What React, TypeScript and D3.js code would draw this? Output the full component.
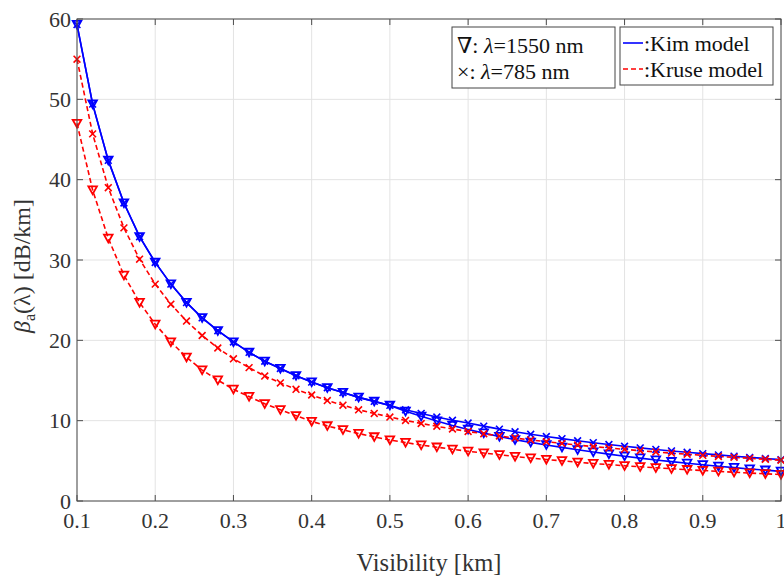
import React from "react";
import * as d3 from "d3";

const VIS = [0.10, 0.12, 0.14, 0.16, 0.18, 0.20, 0.22, 0.24, 0.26, 0.28, 0.30, 0.32, 0.34, 0.36, 0.38, 0.40, 0.42, 0.44, 0.46, 0.48, 0.50, 0.52, 0.54, 0.56, 0.58, 0.60, 0.62, 0.64, 0.66, 0.68, 0.70, 0.72, 0.74, 0.76, 0.78, 0.80, 0.82, 0.84, 0.86, 0.88, 0.90, 0.92, 0.94, 0.96, 0.98, 1.00];

const KIM_1550 = [59.3, 49.4, 42.4, 37.1, 32.9, 29.7, 27.0, 24.7, 22.8, 21.2, 19.8, 18.5, 17.4, 16.5, 15.6, 14.8, 14.1, 13.5, 12.9, 12.4, 11.9, 11.17, 10.54, 9.95, 9.41, 8.91, 8.45, 8.03, 7.63, 7.3, 6.98, 6.68, 6.38, 6.1, 5.83, 5.58, 5.34, 5.11, 4.9, 4.7, 4.52, 4.33, 4.16, 3.99, 3.84, 3.69];
const KIM_785 = [59.3, 49.4, 42.4, 37.1, 32.9, 29.7, 27.0, 24.7, 22.8, 21.2, 19.8, 18.5, 17.4, 16.5, 15.6, 14.8, 14.1, 13.5, 12.9, 12.4, 11.9, 11.35, 10.9, 10.45, 10.05, 9.7, 9.32, 8.95, 8.62, 8.3, 8.02, 7.76, 7.5, 7.26, 7.03, 6.82, 6.61, 6.42, 6.23, 6.06, 5.9, 5.74, 5.58, 5.43, 5.29, 5.15];
const KRUSE_1550 = [47.0, 38.7, 32.7, 28.1, 24.7, 22.0, 19.8, 17.9, 16.3, 15.05, 13.9, 13.0, 12.1, 11.35, 10.62, 9.9, 9.35, 8.86, 8.4, 7.98, 7.6, 7.27, 6.97, 6.7, 6.44, 6.19, 5.97, 5.75, 5.54, 5.35, 5.17, 5.0, 4.83, 4.67, 4.53, 4.39, 4.26, 4.14, 4.01, 3.9, 3.8, 3.69, 3.58, 3.48, 3.39, 3.3];
const KRUSE_785 = [55.0, 45.7, 39.0, 34.0, 30.1, 27.0, 24.5, 22.4, 20.6, 19.05, 17.7, 16.6, 15.55, 14.7, 13.9, 13.2, 12.5, 11.93, 11.35, 10.9, 10.45, 10.03, 9.65, 9.3, 8.96, 8.65, 8.37, 8.1, 7.84, 7.6, 7.38, 7.17, 6.96, 6.77, 6.6, 6.43, 6.26, 6.11, 5.96, 5.82, 5.68, 5.55, 5.43, 5.31, 5.19, 5.08];

const X_TICKS = [0.1, 0.2, 0.3, 0.4, 0.5, 0.6, 0.7, 0.8, 0.9, 1.0];
const X_LABELS = ["0.1", "0.2", "0.3", "0.4", "0.5", "0.6", "0.7", "0.8", "0.9", "1"];
const Y_TICKS = [0, 10, 20, 30, 40, 50, 60];

const W = 784;
const H = 577;
const L = 77, R = 781, T = 19, B = 501;
const FONT = "Liberation Serif, DejaVu Serif, Times New Roman, serif";
const BLUE = "#0000ff";
const RED = "#ff0000";
const AX = "#4d4d4d";
const TXT = "#333333";

const x = d3.scaleLinear().domain([0.1, 1]).range([L, R]);
const y = d3.scaleLinear().domain([0, 60]).range([B, T]);

type Series = { vals: number[]; color: string; dash?: string; marker: "tri" | "x" };

const SERIES: Series[] = [
  { vals: KIM_1550, color: BLUE, marker: "tri" },
  { vals: KIM_785, color: BLUE, marker: "x" },
  { vals: KRUSE_1550, color: RED, dash: "5,3", marker: "tri" },
  { vals: KRUSE_785, color: RED, dash: "5,3", marker: "x" },
];

const line = d3
  .line<number>()
  .x((_, i) => x(VIS[i]))
  .y((d) => y(d));

function Marker({ kind, cx, cy, color }: { kind: "tri" | "x"; cx: number; cy: number; color: string }) {
  if (kind === "tri") {
    const s = 4.3;
    const p = `M${cx - s},${cy - s * 0.85}L${cx + s},${cy - s * 0.85}L${cx},${cy + s * 0.95}Z`;
    return <path d={p} fill="none" stroke={color} strokeWidth={1.8} strokeLinejoin="miter" />;
  }
  const s = 3.4;
  return (
    <path
      d={`M${cx - s},${cy - s}L${cx + s},${cy + s}M${cx - s},${cy + s}L${cx + s},${cy - s}`}
      stroke={color}
      strokeWidth={1.6}
      fill="none"
    />
  );
}

const textStyle: React.CSSProperties = { fontFamily: FONT };

export default function App() {
  return (
    <svg
      width={W}
      height={H}
      viewBox={`0 0 ${W} ${H}`}
      style={{ position: "absolute", left: 0, top: 0, background: "#fff", fontFamily: FONT }}
    >
      <rect x={0} y={0} width={W} height={H} fill="#fff" />
      {/* grid */}
      {X_TICKS.map((t) => (
        <line key={"gx" + t} x1={x(t)} x2={x(t)} y1={T} y2={B} stroke="#e3e3e3" strokeWidth={1} />
      ))}
      {Y_TICKS.map((t) => (
        <line key={"gy" + t} x1={L} x2={R} y1={y(t)} y2={y(t)} stroke="#e3e3e3" strokeWidth={1} />
      ))}

      {/* series lines */}
      {SERIES.map((s, k) => (
        <path
          key={"l" + k}
          d={line(s.vals) || ""}
          fill="none"
          stroke={s.color}
          strokeWidth={1.6}
          strokeDasharray={s.dash}
        />
      ))}
      {SERIES.map((s, k) => (
        <g key={"m" + k}>
          {s.vals.map((v, i) => (
            <Marker key={i} kind={s.marker} cx={x(VIS[i])} cy={y(v)} color={s.color} />
          ))}
        </g>
      ))}

      {/* axes box */}
      <rect x={L} y={T} width={R - L} height={B - T} fill="none" stroke={AX} strokeWidth={1} />
      {X_TICKS.map((t) => (
        <g key={"tx" + t}>
          <line x1={x(t)} x2={x(t)} y1={B} y2={B - 6} stroke={AX} />
          <line x1={x(t)} x2={x(t)} y1={T} y2={T + 6} stroke={AX} />
        </g>
      ))}
      {Y_TICKS.map((t) => (
        <g key={"ty" + t}>
          <line x1={L} x2={L + 6} y1={y(t)} y2={y(t)} stroke={AX} />
          <line x1={R} x2={R - 6} y1={y(t)} y2={y(t)} stroke={AX} />
        </g>
      ))}

      {/* tick labels */}
      {X_TICKS.map((t, i) => (
        <text key={"lx" + t} x={x(t)} y={528} textAnchor="middle" fontSize={22} fill={TXT} style={textStyle}>
          {X_LABELS[i]}
        </text>
      ))}
      {Y_TICKS.map((t) => (
        <text key={"ly" + t} x={71} y={y(t) + 7.5} textAnchor="end" fontSize={22} fill={TXT} style={textStyle}>
          {t}
        </text>
      ))}

      {/* axis titles */}
      <text x={(L + R) / 2} y={571} textAnchor="middle" fontSize={24.5} fill={TXT} style={textStyle}>
        Visibility [km]
      </text>
      <text
        transform={`translate(30, ${(T + B) / 2 + 6}) rotate(-90)`}
        textAnchor="middle"
        fontSize={24}
        fill={TXT}
        style={textStyle}
      >
        <tspan fontStyle="italic">β</tspan>
        <tspan fontSize={16} dy={5}>a</tspan>
        <tspan dy={-5}>(λ) [dB/km]</tspan>
      </text>

      {/* legend 1 */}
      <rect x={452} y={27} width={163} height={61} fill="#fff" stroke="#444" strokeWidth={1} />
      <text x={457} y={53} fontSize={22} fill="#111" style={textStyle}>
        ∇: <tspan fontStyle="italic">λ</tspan>=1550 nm
      </text>
      <text x={457} y={79} fontSize={22} fill="#111" style={textStyle}>
        ×: <tspan fontStyle="italic">λ</tspan>=785 nm
      </text>

      {/* legend 2 */}
      <rect x={620} y={27} width={153} height={58} fill="#fff" stroke="#444" strokeWidth={1} />
      <line x1={623} x2={643} y1={43} y2={43} stroke={BLUE} strokeWidth={1.6} />
      <text x={644} y={51} fontSize={22} fill="#111" style={textStyle}>:Kim model</text>
      <line x1={623} x2={643} y1={69} y2={69} stroke={RED} strokeWidth={1.6} strokeDasharray="5,3" />
      <text x={644} y={77} fontSize={22} fill="#111" style={textStyle}>:Kruse model</text>
    </svg>
  );
}
